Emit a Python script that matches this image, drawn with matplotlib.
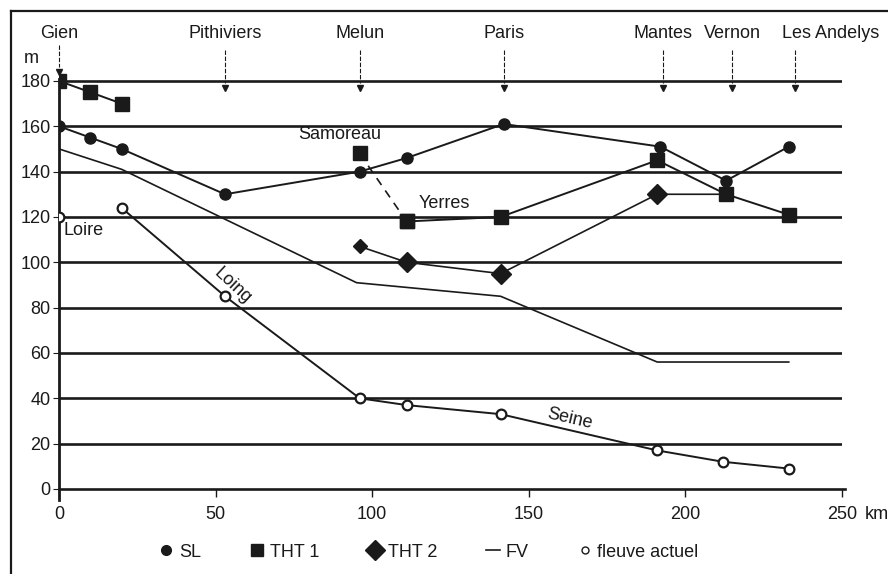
import matplotlib
matplotlib.use("Agg")
import matplotlib.pyplot as plt
from matplotlib.lines import Line2D

plt.rcParams['font.family'] = ['Liberation Sans', 'DejaVu Sans']

# villes (km depuis Gien)
towns = ['Gien', 'Pithiviers', 'Melun', 'Paris', 'Mantes', 'Vernon', 'Les Andelys']
town_km = [0, 53, 96, 142, 193, 215, 235]

# SL
sl_km = [0, 10, 20, 53, 96, 111, 142, 192, 213, 233]
sl_m = [160, 155, 150, 130, 140, 146, 161, 151, 136, 151]

# THT 1 (Gien, puis Samoreau -> Yerres -> aval)
tht1a_km = [0, 10, 20]
tht1a_m = [180, 175, 170]
samoreau_km = [96, 111]
samoreau_m = [148, 118]
tht1b_km = [111, 141, 191, 213, 233]
tht1b_m = [118, 120, 145, 130, 121]

# THT 2
tht2_km = [96, 111, 141, 191, 213]
tht2_m = [107, 100, 95, 130, 130]

# FV
fv_km = [0, 20, 95, 141, 191, 233]
fv_m = [150, 141, 91, 85, 56, 56]

# fleuve actuel
loire_km = [0]
loire_m = [120]
seine_km = [20, 53, 96, 111, 141, 191, 212, 233]
seine_m = [124, 85, 40, 37, 33, 17, 12, 9]

fig = plt.figure(figsize=(8.88, 5.74), dpi=100)
ax = fig.add_axes([59 / 888, 0.1284, 783 / 888, 0.8096])
ax.set_xlim(0, 250)
ax.set_ylim(-5, 200)

ink = '#1a1a1a'

# lignes horizontales
ax.hlines(range(20, 181, 20), 0, 251, color=ink, lw=1.9, zorder=1)

ax.plot(fv_km, fv_m, color=ink, lw=1.2, zorder=2)
ax.plot(sl_km, sl_m, color=ink, lw=1.4, marker='o', ms=8, zorder=3)
ax.plot(tht1a_km, tht1a_m, color=ink, lw=1.4, marker='s', ms=10, zorder=3)
ax.plot(samoreau_km, samoreau_m, color=ink, lw=1.2, ls=(0, (5, 4)), marker='s', ms=10, zorder=3)
ax.plot(tht1b_km, tht1b_m, color=ink, lw=1.4, marker='s', ms=10, zorder=3)
ax.plot(tht2_km, tht2_m, color=ink, lw=1.2, marker='D', ms=10, markevery=[1, 2, 3], zorder=3)
ax.plot(tht2_km[:1], tht2_m[:1], color=ink, ls='none', marker='D', ms=7, zorder=3)
ax.plot(loire_km, loire_m, ls='none', marker='o', ms=7, mfc='white', mec=ink, mew=1.6, zorder=4)
ax.plot(seine_km, seine_m, color=ink, lw=1.4, marker='o', ms=7, mfc='white', mec=ink, mew=1.6, zorder=4)

# fleches des villes
for name, km in zip(towns, town_km):
    tip = 184 if km == 0 else 177
    top = 196 if km == 0 else 193.5
    ax.plot([km, km], [top, tip + 2], color=ink, lw=0.8, ls=(0, (4, 1.5)), clip_on=False)
    ax.plot([km], [tip], color=ink, marker='v', ms=5, clip_on=False)
    if name == 'Les Andelys':
        ax.text(km - 4, 201, name, ha='left', va='center', fontsize=13, color=ink, clip_on=False)
    else:
        ax.text(km, 201, name, ha='center', va='center', fontsize=13, color=ink, clip_on=False)

# annotations
ax.text(-9, 190, 'm', ha='center', va='center', fontsize=13, color=ink, clip_on=False)
ax.text(1.3, 114, 'Loire', ha='left', va='center', fontsize=13, color=ink)
ax.text(89.7, 156.5, 'Samoreau', ha='center', va='center', fontsize=13, color=ink)
ax.text(123, 126, 'Yerres', ha='center', va='center', fontsize=13, color=ink)
ax.text(55.5, 89.5, 'Loing', ha='center', va='center', fontsize=13, color=ink, rotation=-43)
ax.text(163, 31, 'Seine', ha='center', va='center', fontsize=13, color=ink, rotation=-13)
ax.text(257.3, -11.3, 'km', ha='left', va='center', fontsize=13, color=ink, clip_on=False)

# axes
for s in ['top', 'right']:
    ax.spines[s].set_visible(False)
ax.spines['left'].set_bounds(-5, 181)
ax.spines['left'].set_linewidth(2)
ax.spines['left'].set_color(ink)
ax.spines['bottom'].set_position(('data', 0))
ax.spines['bottom'].set_bounds(0, 251)
ax.spines['bottom'].set_linewidth(1.9)
ax.spines['bottom'].set_color(ink)

ax.set_xticks([0, 50, 100, 150, 200, 250])
ax.set_yticks(range(0, 181, 20))
ax.tick_params(axis='x', direction='out', length=6, width=1, pad=6, labelsize=13, colors=ink)
ax.tick_params(axis='y', direction='out', length=4, width=0.8, pad=2, labelsize=13, colors=ink)

# legende
handles = [
    Line2D([], [], color=ink, ls='none', marker='o', ms=7),
    Line2D([], [], color=ink, ls='none', marker='s', ms=9),
    Line2D([], [], color=ink, ls='none', marker='D', ms=10),
    Line2D([], [], color=ink, lw=1.2),
    Line2D([], [], color=ink, ls='none', marker='o', ms=5, mfc='white', mew=1),
]
labels = ['SL', 'THT 1', 'THT 2', 'FV', 'fleuve actuel']
fig.legend(handles, labels, loc='center', bbox_to_anchor=(0.483, 0.038), ncol=5,
           frameon=False, fontsize=13, handlelength=0.8, handletextpad=0.3,
           columnspacing=2.7, labelcolor=ink)

# cadre
fig.add_artist(Line2D([11 / 888, 11 / 888], [0, 1 - 11 / 574], color=ink, lw=1.6))
fig.add_artist(Line2D([11 / 888, 1], [1 - 11 / 574, 1 - 11 / 574], color=ink, lw=1.6))

fig.savefig('out.png', dpi=100)
